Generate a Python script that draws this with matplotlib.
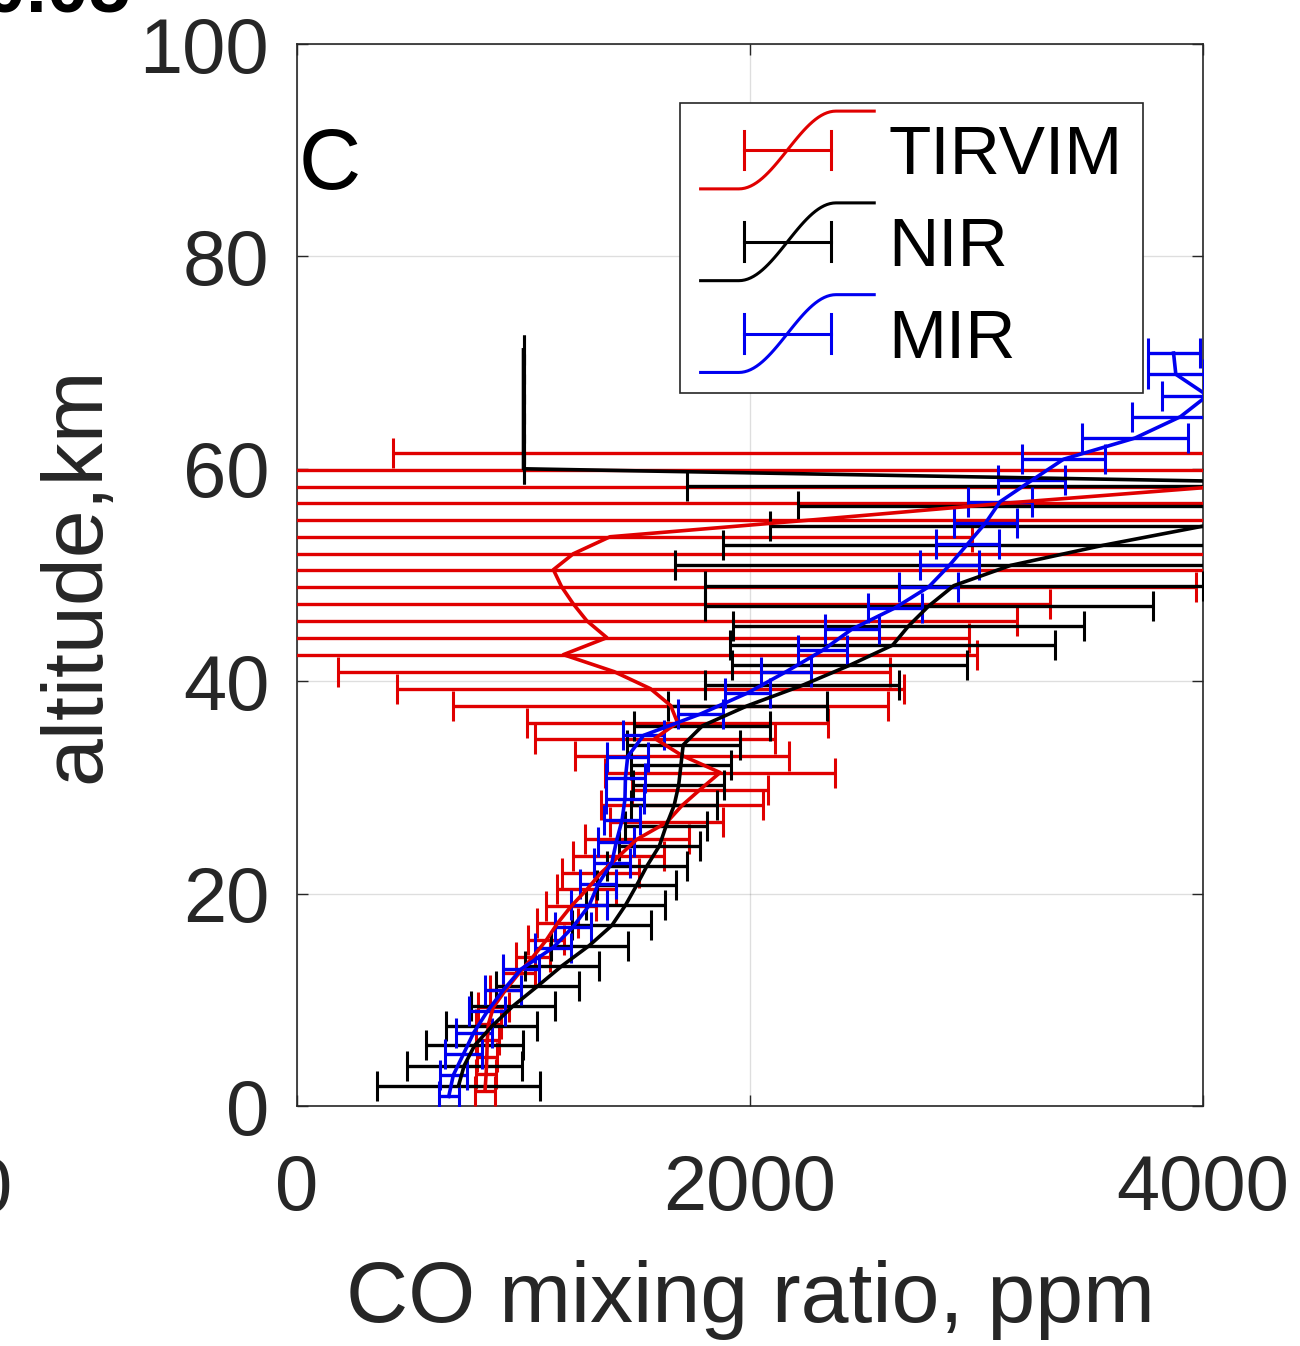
import matplotlib
matplotlib.use("Agg")
import matplotlib.pyplot as plt
import numpy as np
from matplotlib.legend_handler import HandlerBase
from matplotlib.lines import Line2D

# TIRVIM (red) profile: altitude (km), CO (ppm), 1-sigma error (ppm)
tirvim_alt = [61.5, 59.9, 58.3, 56.8, 55.2, 53.6, 52.0, 50.5, 48.9, 47.3, 45.7, 44.1, 42.5,
              40.9, 39.3, 37.7, 36.1, 34.6, 33.0, 31.4, 29.8, 28.3, 26.7, 25.1, 23.5, 21.9,
              20.4, 18.8, 17.2, 15.6, 14.0, 12.5, 10.9, 9.3, 7.7, 6.2, 4.6, 3.0, 1.4]
tirvim_co = [6000, 7000, 4050, 3150, 2280, 1382, 1220, 1132, 1168, 1219, 1279, 1368, 1176,
             1400, 1560, 1650, 1680, 1580, 1700, 1868, 1780, 1700, 1632, 1500, 1420, 1340,
             1280, 1210, 1150, 1100, 1040, 980, 920, 867, 845, 840, 838, 835, 830]
tirvim_err = [5576, 7200, 4300, 3400, 2500, 1600, 3000, 3000, 2800, 2106, 1900, 1600, 1824,
              1220, 1120, 960, 665, 529, 473, 507, 300, 358, 250, 230, 200, 170,
              130, 110, 90, 80, 75, 70, 70, 70, 55, 50, 45, 45, 45]

# NIR (black) profile
nir_alt = [1.9, 3.8, 5.7, 7.5, 9.4, 11.3, 13.2, 15.1, 17.0, 18.9, 20.8, 22.6, 24.5, 26.4,
           28.3, 30.2, 32.1, 34.0, 35.8, 37.7, 39.6, 41.5, 43.4, 45.2, 47.1, 49.0, 50.9,
           52.8, 54.6, 56.5, 58.4, 60.0, 61.9, 63.8, 65.6, 67.5, 69.4, 71.2]
nir_co = [713, 738, 784, 860, 953, 1063, 1170, 1290, 1390, 1450, 1500, 1545, 1600, 1630,
          1665, 1685, 1695, 1705, 1790, 1990, 2230, 2440, 2630, 2700, 2790, 2900, 3150,
          3560, 4000, 6000, 5200, 1000, 1000, 1000, 1000, 1000, 1000, 1000]
nir_err = [360, 254, 215, 200, 185, 183, 165, 170, 175, 175, 175, 175, 180, 180,
           190, 200, 220, 250, 300, 350, 430, 520, 718, 774, 990, 1100, 1480,
           1680, 1910, 3790, 3480, 0, 0, 0, 0, 0, 0, 0]

# MIR (blue) profile
mir_alt = [70.9, 68.9, 66.9, 64.9, 62.9, 60.9, 58.9, 56.9, 54.9, 52.9, 50.9, 48.9, 46.9,
           44.9, 42.9, 40.9, 38.9, 36.9, 34.9, 32.9, 30.9, 28.9, 26.9, 24.9, 22.9, 20.9,
           18.9, 16.9, 14.9, 12.9, 10.9, 8.9, 6.9, 4.9, 2.9, 0.9]
mir_co = [3870, 3880, 4020, 3900, 3700, 3384, 3243, 3104, 3040, 2960, 2880, 2790, 2640,
          2450, 2320, 2160, 1990, 1780, 1530, 1460, 1450, 1448, 1435, 1410, 1390, 1330,
          1290, 1220, 1130, 990, 910, 840, 780, 735, 690, 670]
mir_err = [115, 125, 200, 215, 235, 184, 148, 140, 140, 140, 130, 130, 120,
           120, 110, 110, 100, 100, 90, 90, 85, 85, 80, 80, 80, 80,
           80, 80, 80, 80, 80, 80, 80, 80, 60, 45]

series = [
    ("TIRVIM", tirvim_co, tirvim_alt, tirvim_err, "#e00000"),
    ("NIR", nir_co, nir_alt, nir_err, "black"),
    ("MIR", mir_co, mir_alt, mir_err, "#0000f0"),
]

TEXT = "#262626"
FONT = "Liberation Sans"


class HandlerErrorS(HandlerBase):
    # MATLAB style legend glyph: S shaped line with a horizontal error bar
    def create_artists(self, legend, orig_handle, xdescent, ydescent, width, height, fontsize, trans):
        color = orig_handle.get_color()
        lw = orig_handle.get_linewidth()
        x0 = -xdescent
        y0 = -ydescent
        t = np.linspace(0, 1, 60)
        ramp = np.clip((t - 0.22) / 0.56, 0, 1)
        ys = y0 + height * (-0.3 + 1.6 * (0.5 - 0.5 * np.cos(np.pi * ramp)))
        curve = Line2D(x0 + width * t, ys, color=color, lw=lw, transform=trans)
        yc = y0 + height * 0.5
        xl, xr = x0 + 0.25 * width, x0 + 0.75 * width
        cap = 0.4 * height
        bar = Line2D([xl, xr], [yc, yc], color=color, lw=lw, transform=trans)
        capl = Line2D([xl, xl], [yc - cap, yc + cap], color=color, lw=lw, transform=trans)
        capr = Line2D([xr, xr], [yc - cap, yc + cap], color=color, lw=lw, transform=trans)
        return [curve, bar, capl, capr]


def main() -> None:
    fig = plt.figure(figsize=(13.0, 13.46), dpi=100)
    ax = fig.add_axes([297 / 1300, 1 - 1106 / 1346, 906 / 1300, 1062 / 1346])

    handles = []
    for label, co, alt, err, color in series:
        ax.errorbar(co, alt, xerr=err, color=color, ecolor=color, lw=2.6, elinewidth=2.4,
                    capsize=11, capthick=2.2, zorder=3)
        handles.append(Line2D([], [], color=color, lw=2.2, label=label))

    ax.set_xlim(0, 4000)
    ax.set_ylim(0, 100)
    ax.set_xticks([0, 2000, 4000])
    ax.set_yticks([0, 20, 40, 60, 80, 100])
    ax.grid(True, color="#262626", alpha=0.15, lw=1.0)
    ax.set_axisbelow(True)
    ax.tick_params(direction="in", length=8, width=1, top=True, right=True,
                   labelsize=56, colors=TEXT)
    ax.tick_params(axis="x", pad=34)
    ax.tick_params(axis="y", pad=20)
    for lab in ax.get_xticklabels() + ax.get_yticklabels():
        lab.set_fontfamily(FONT)
    for sp in ax.spines.values():
        sp.set_color(TEXT)
        sp.set_linewidth(1.2)

    ax.set_xlabel("CO mixing ratio, ppm", fontsize=62, family=FONT, color=TEXT, labelpad=24)
    ax.set_ylabel("altitude,km", fontsize=62, family=FONT, color=TEXT, labelpad=16)

    ax.text(0.002, 0.884, "C", transform=ax.transAxes, fontsize=62, family=FONT,
            color="black", ha="left", va="center")

    leg = ax.legend(handles=handles, loc="upper right", bbox_to_anchor=(0.934, 0.944),
                    borderaxespad=0, handler_map={Line2D: HandlerErrorS()},
                    prop={"family": FONT, "size": 50}, handlelength=2.5, handletextpad=0.2,
                    labelspacing=0.4, borderpad=0.3, fancybox=False, framealpha=1,
                    edgecolor=TEXT)
    leg.get_frame().set_linewidth(1.2)

    # pieces of the neighbouring panel cut by the image edges
    fig.text(130 / 1300, 1 - 12 / 1346, "0.05", fontsize=54, family=FONT, weight="bold",
             color="black", ha="right", va="baseline")
    fig.text(12 / 1300, 1 - 1212 / 1346, "0", fontsize=56, family=FONT, color=TEXT,
             ha="right", va="baseline")

    fig.savefig("out.png", dpi=100)


if __name__ == "__main__":
    main()
